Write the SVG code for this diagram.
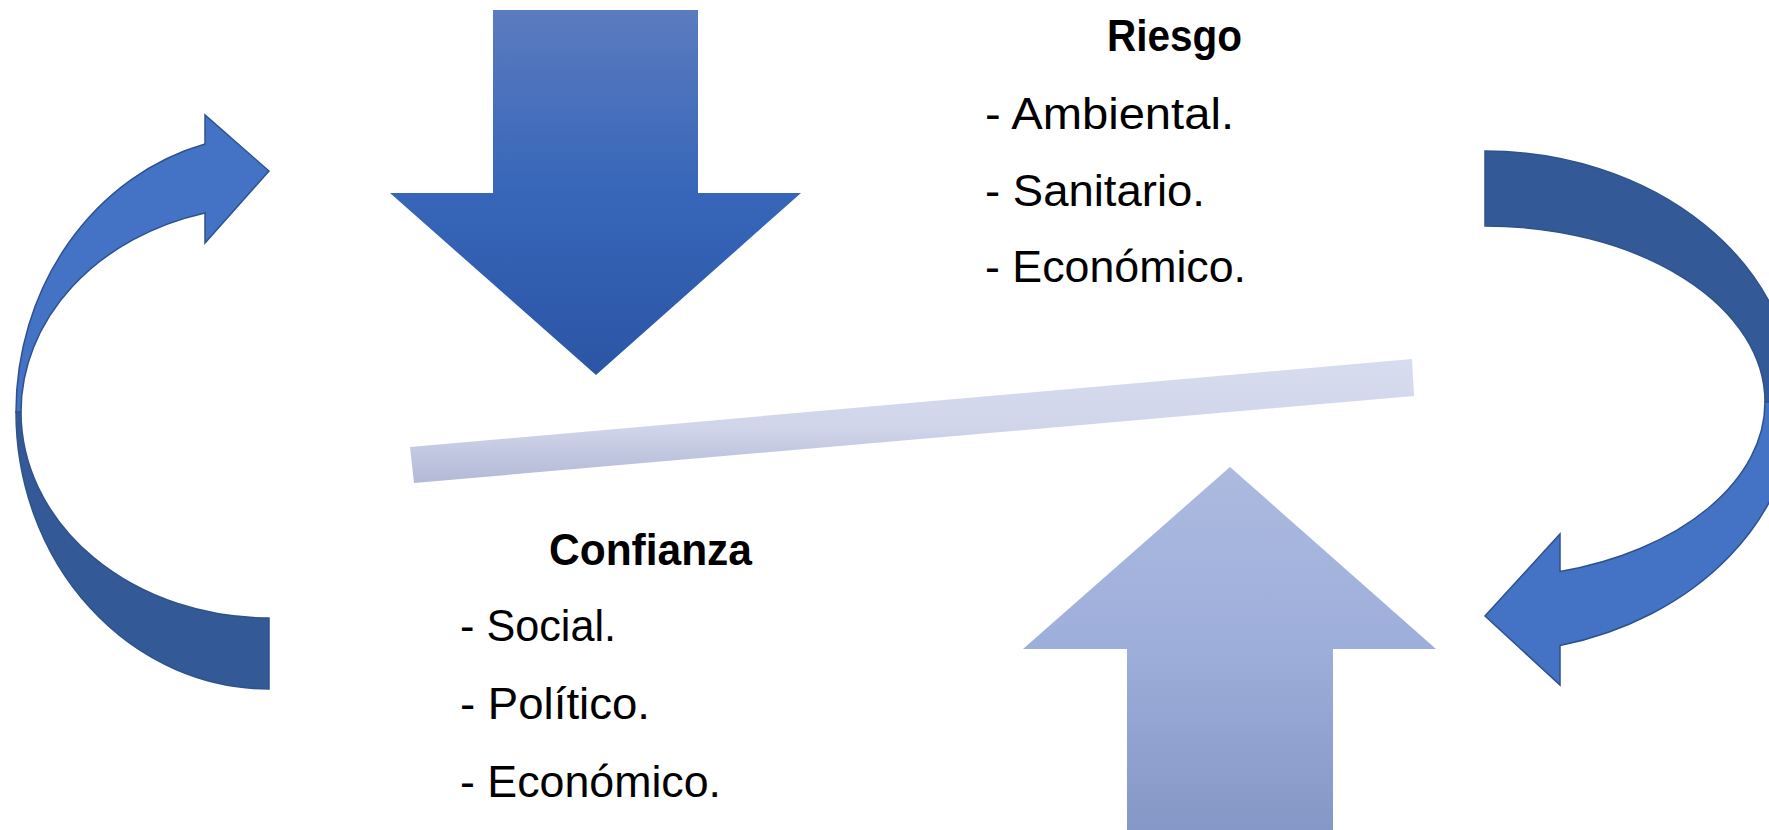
<svg xmlns="http://www.w3.org/2000/svg" width="1769" height="830" viewBox="0 0 1769 830">
<style>
.band-light{fill:#4472c4;stroke:#2f528f;stroke-width:1.5;stroke-linejoin:miter}
.band-dark{fill:#335a96;stroke:#2f528f;stroke-width:1.5;stroke-linejoin:miter}
.title{font-family:"Liberation Sans",Arial,sans-serif;font-weight:bold;font-size:45px;fill:#000}
.item{font-family:"Liberation Sans",Arial,sans-serif;font-size:45px;fill:#000}
</style>
<defs>
<linearGradient id="gDown" x1="0" y1="0" x2="0" y2="1">
<stop offset="0" stop-color="#5b7bbf"/>
<stop offset="0.5" stop-color="#3766b9"/>
<stop offset="1" stop-color="#2c55a5"/>
</linearGradient>
<linearGradient id="gUp" x1="0" y1="0" x2="0" y2="1">
<stop offset="0" stop-color="#acbadf"/>
<stop offset="0.5" stop-color="#9eaedb"/>
<stop offset="1" stop-color="#8597c6"/>
</linearGradient>
<linearGradient id="gBar" x1="0" y1="0" x2="0" y2="1">
<stop offset="0" stop-color="#d7dcee"/>
<stop offset="0.55" stop-color="#d0d5ea"/>
<stop offset="1" stop-color="#b3b8d6"/>
</linearGradient>
</defs>
<g id="arrow-down">
<polygon points="493,10 698,10 698,193 801,193 596,375 390,193 493,193" fill="url(#gDown)"/>
</g>
<g id="arrow-up">
<polygon points="1230,467 1436,649 1333,649 1333,830 1127,830 1127,649 1023,649" fill="url(#gUp)"/>
</g>
<g id="balance-bar">
<polygon points="410,447 1412,359 1414,396 414,483" fill="url(#gBar)"/>
</g>
<g id="riesgo">
<text class="title" x="1107" y="51" textLength="135" lengthAdjust="spacingAndGlyphs">Riesgo</text>
<text class="item" x="985" y="129" textLength="249" lengthAdjust="spacingAndGlyphs">- Ambiental.</text>
<text class="item" x="985" y="206" textLength="220" lengthAdjust="spacingAndGlyphs">- Sanitario.</text>
<text class="item" x="985" y="282" textLength="261" lengthAdjust="spacingAndGlyphs">- Económico.</text>
</g>
<g id="confianza">
<text class="title" x="549" y="565" textLength="203" lengthAdjust="spacingAndGlyphs">Confianza</text>
<text class="item" x="460" y="641" textLength="156" lengthAdjust="spacingAndGlyphs">- Social.</text>
<text class="item" x="460" y="719" textLength="190" lengthAdjust="spacingAndGlyphs">- Político.</text>
<text class="item" x="460" y="797" textLength="261" lengthAdjust="spacingAndGlyphs">- Económico.</text>
</g>
<g id="connectors">
<g id="cycle-left">
<path class="band-dark" d="M269,689 A253,277 0 0 1 16,412 L21,412 A248,206 0 0 0 269,618 Z"/>
<path class="band-light" d="M16,412 A253,277 0 0 1 205,144 L205,115 L269,171 L205,243 L205,213 A248,206 0 0 0 21,412 Z"/>
</g>
<g id="cycle-right">
<path class="band-dark" d="M1485,151 A310,251 0 0 1 1795,402 L1765,402 A280,176 0 0 0 1485,226 Z"/>
<path class="band-light" d="M1795,402 A310,251 0 0 1 1560,645.5 L1560,685 L1485,616 L1560,534 L1560,571.6 A280,176 0 0 0 1765,402 Z"/>
</g>
</g>
</svg>
